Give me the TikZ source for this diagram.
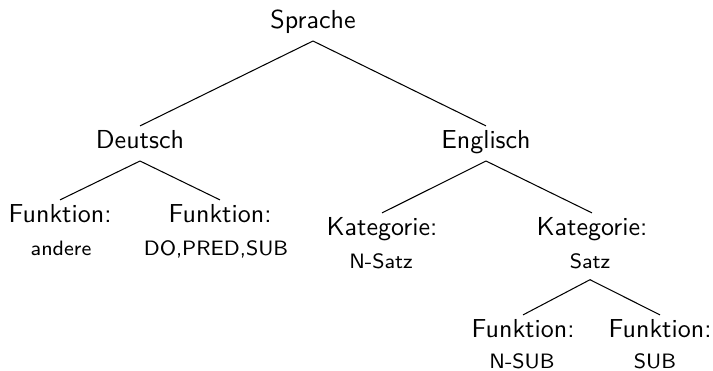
\documentclass[tikz,border=0pt]{standalone}
\begin{document}
\begin{tikzpicture}[x=0.3846pt,y=-0.3846pt,
  head/.style={font=\sffamily, anchor=base, inner sep=0pt, outer sep=1.5pt, text height=7pt, text depth=3.5pt},
  val/.style={font=\sffamily\footnotesize, anchor=base, inner sep=0pt, outer sep=1.5pt, text height=5.5pt, text depth=3pt},
  edge/.style={draw=black, line width=0.4pt}]
\useasboundingbox (0,0) rectangle (713,370);
% top
\node[head] (sprache) at (313,28) {Sprache};
\node[head] (deutsch) at (140,148) {Deutsch};
\node[head] (englisch) at (486,148) {Englisch};
% Deutsch children
\node[head] (fl) at (60,222) {Funktion:};
\node[val] (flv) at (61,255) {andere};
\node[head] (fr) at (220,222) {Funktion:};
\node[val] (frv) at (216,255) {DO,PRED,SUB};
% Englisch children
\node[head] (kl) at (382,235) {Kategorie:};
\node[val] (klv) at (381,268) {N-Satz};
\node[head] (kr) at (592,235) {Kategorie:};
\node[val] (krv) at (590,268) {Satz};
% Satz children
\node[head] (sl) at (523,337) {Funktion:};
\node[val] (slv) at (522,368) {N-SUB};
\node[head] (sr) at (660,337) {Funktion:};
\node[val] (srv) at (655,368) {SUB};
% connectors
\draw[edge] (sprache.south) -- (deutsch.north);
\draw[edge] (sprache.south) -- (englisch.north);
\draw[edge] (deutsch.south) -- (fl.north);
\draw[edge] (deutsch.south) -- (fr.north);
\draw[edge] (englisch.south) -- (kl.north);
\draw[edge] (englisch.south) -- (kr.north);
\draw[edge] (krv.south) -- (sl.north);
\draw[edge] (krv.south) -- (sr.north);
\end{tikzpicture}
\end{document}
